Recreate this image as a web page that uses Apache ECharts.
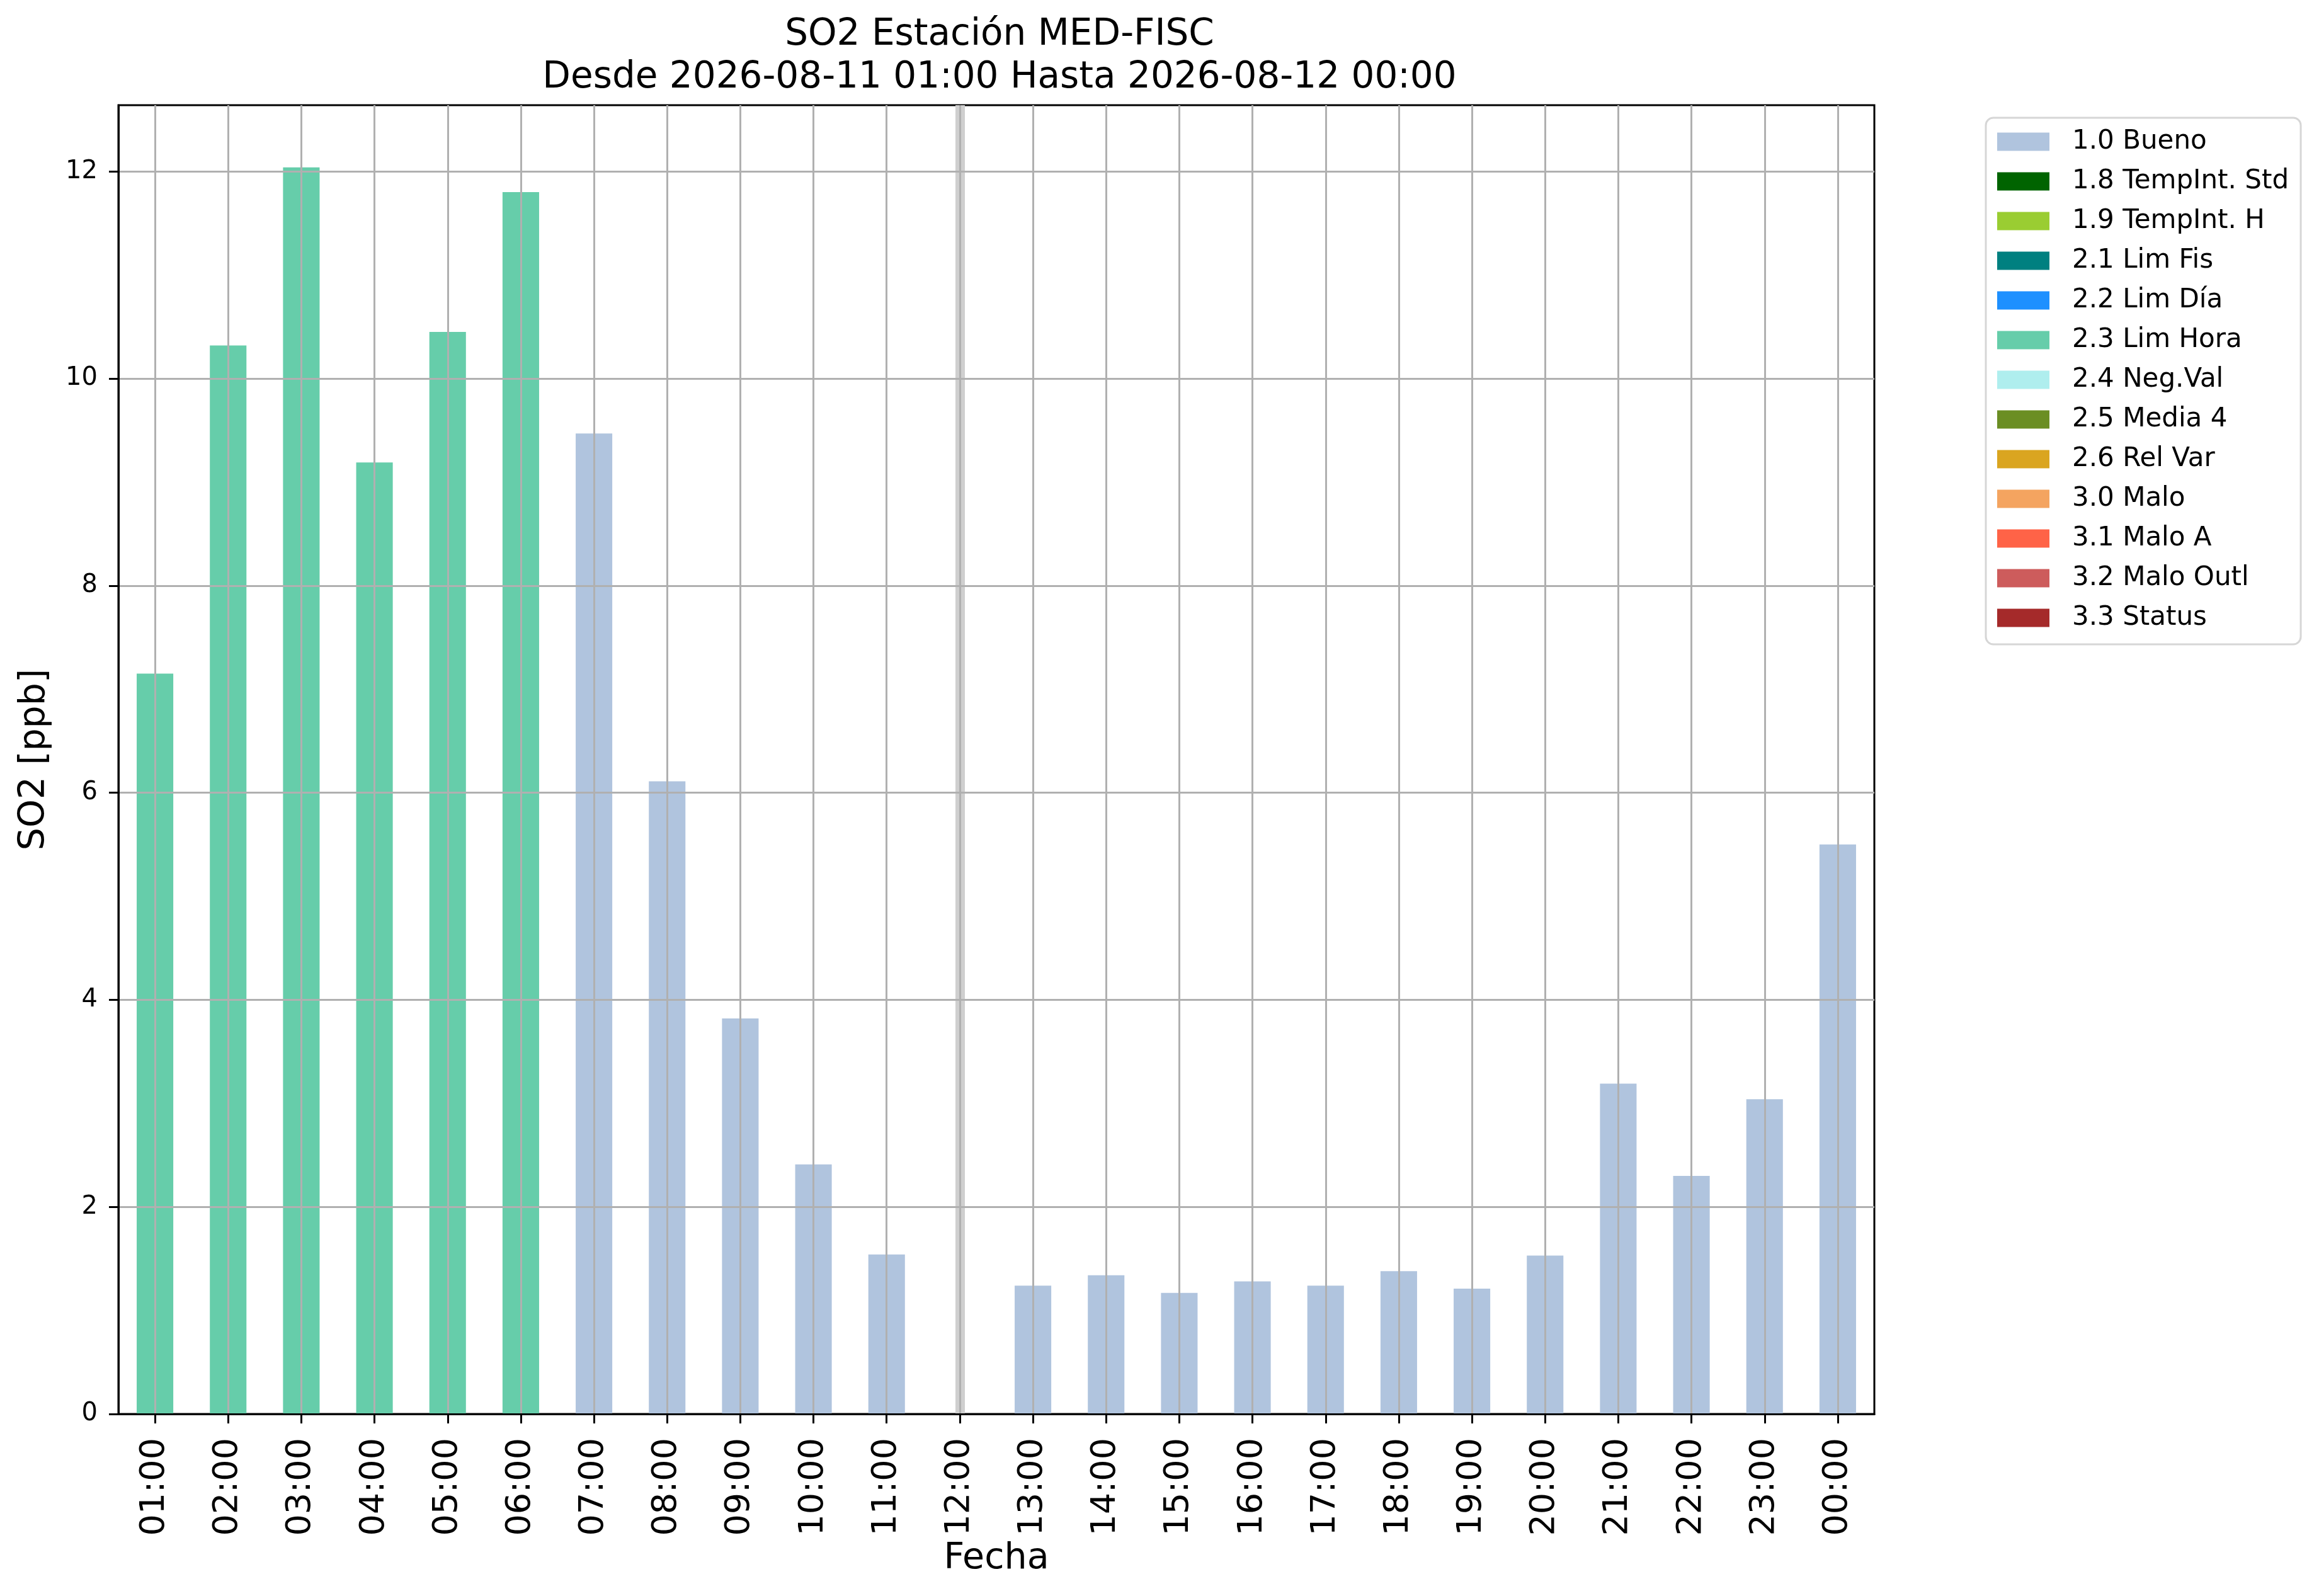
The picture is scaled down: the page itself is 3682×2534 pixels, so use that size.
<!DOCTYPE html>
<html>
<head>
<meta charset="utf-8">
<title>SO2 Estación MED-FISC</title>
<script src="https://cdn.jsdelivr.net/npm/echarts@6/dist/echarts.min.js"></script>
<style>
  html, body { margin: 0; padding: 0; background: #fff; }
  #chart { width: 3682px; height: 2534px; }
</style>
</head>
<body>
<div id="chart"></div>
<script>
// horas del periodo
const hours = ['01:00', '02:00', '03:00', '04:00', '05:00', '06:00', '07:00', '08:00',
  '09:00', '10:00', '11:00', '12:00', '13:00', '14:00', '15:00', '16:00',
  '17:00', '18:00', '19:00', '20:00', '21:00', '22:00', '23:00', '00:00'];

// valores SO2 [ppb] por etiqueta de calidad (null = sin dato en esa etiqueta)
const bueno = [null, null, null, null, null, null, 9.47, 6.11, 3.82, 2.41, 1.54, null,
  1.24, 1.34, 1.17, 1.28, 1.24, 1.38, 1.21, 1.53, 3.19, 2.30, 3.04, 5.50];
const limHora = [7.15, 10.32, 12.04, 9.19, 10.45, 11.80, null, null, null, null, null, null,
  null, null, null, null, null, null, null, null, null, null, null, null];

// etiquetas de la leyenda y sus colores
const flagNames = ['1.0 Bueno', '1.8 TempInt. Std', '1.9 TempInt. H', '2.1 Lim Fis', '2.2 Lim Día',
  '2.3 Lim Hora', '2.4 Neg.Val', '2.5 Media 4', '2.6 Rel Var', '3.0 Malo', '3.1 Malo A',
  '3.2 Malo Outl', '3.3 Status'];
const flagColors = ['#b0c4de', '#006400', '#9acd32', '#008080', '#1e90ff', '#66cdaa', '#afeeee',
  '#6b8e23', '#daa520', '#f4a460', '#ff6347', '#cd5c5c', '#a52a2a'];

const yMax = 12.64;
const yTicks = [0, 2, 4, 6, 8, 10, 12];

// horas sin ningun dato -> banda gris
const missing = hours.filter((h, i) => bueno[i] == null && limHora[i] == null);

const font = 'DejaVu Sans';
const gridColor = '#b0b0b0';

const chart = echarts.init(document.getElementById('chart'), null, { renderer: 'canvas' });

const series = flagNames.map((name, k) => {
  let data = [];
  if (name === '1.0 Bueno') data = bueno;
  if (name === '2.3 Lim Hora') data = limHora;
  const s = {
    name: name,
    type: 'bar',
    stack: 'flag',
    barWidth: '50%',
    itemStyle: { color: flagColors[k] },
    data: data
  };
  if (k === 0) {
    s.markLine = {
      silent: true,
      z: 2,
      symbol: ['none', 'none'],
      label: { show: false },
      lineStyle: { color: '#cfcfcf', width: 15, type: 'solid' },
      data: missing.map(h => ({ xAxis: h }))
    };
  }
  return s;
});

const option = {
  animation: false,
  backgroundColor: '#fff',
  textStyle: { fontFamily: font, color: '#000' },
  title: {
    text: 'SO2 Estación MED-FISC\nDesde 2026-08-11 01:00 Hasta 2026-08-12 00:00',
    left: 1582,
    top: 17,
    textAlign: 'center',
    textStyle: { fontFamily: font, fontSize: 58, fontWeight: 'normal', color: '#000', lineHeight: 68 }
  },
  legend: {
    orient: 'vertical',
    left: 3153,
    top: 187,
    padding: [17, 19, 21, 18],
    itemWidth: 83,
    itemHeight: 29,
    itemGap: 21,
    icon: 'rect',
    selectedMode: false,
    backgroundColor: '#fff',
    borderColor: '#d6d6d6',
    borderWidth: 3,
    borderRadius: 12,
    textStyle: { fontFamily: font, fontSize: 42, color: '#000', padding: [0, 0, 0, 31] },
    data: flagNames
  },
  grid: {
    left: 188,
    right: 706,
    top: 167,
    bottom: 289,
    show: true,
    borderColor: '#000',
    borderWidth: 3,
    backgroundColor: '#fff'
  },
  xAxis: {
    type: 'category',
    data: hours,
    z: 5,
    boundaryGap: true,
    name: 'Fecha',
    nameLocation: 'middle',
    nameGap: 193,
    nameTextStyle: { fontFamily: font, fontSize: 57, color: '#000' },
    axisLine: { show: true, lineStyle: { color: '#000', width: 3 } },
    axisTick: { show: true, alignWithLabel: true, interval: 0, length: 15, lineStyle: { color: '#000', width: 3 } },
    axisLabel: { rotate: 90, interval: 0, fontSize: 54, margin: 38, color: '#000', fontFamily: font },
    splitLine: { show: true, interval: 0, alignWithLabel: true, lineStyle: { color: gridColor, width: 3 } }
  },
  yAxis: {
    type: 'value',
    min: 0,
    max: yMax,
    interval: 2,
    z: 5,
    name: 'SO2 [ppb]',
    nameLocation: 'middle',
    nameGap: 104,
    nameRotate: 90,
    nameTextStyle: { fontFamily: font, fontSize: 57, color: '#000' },
    axisLine: { show: true, lineStyle: { color: '#000', width: 3 } },
    axisTick: { show: true, length: 15, customValues: yTicks, lineStyle: { color: '#000', width: 3 } },
    axisLabel: {
      fontSize: 40, margin: 33, color: '#000', fontFamily: font,
      customValues: yTicks
    },
    splitLine: { show: true, lineStyle: { color: gridColor, width: 3 } }
  },
  series: series
};

chart.setOption(option);
</script>
</body>
</html>
